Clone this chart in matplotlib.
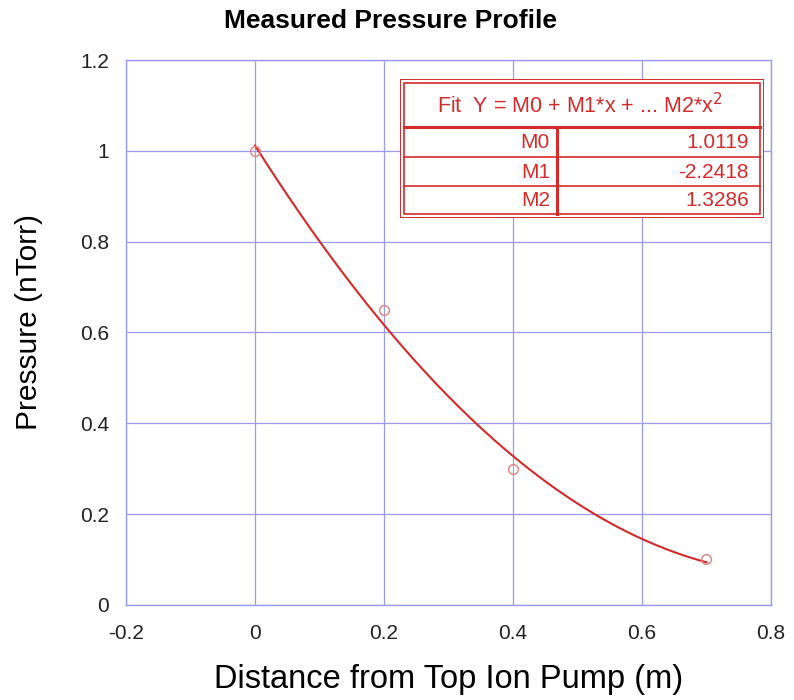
import numpy as np
import matplotlib
matplotlib.use("Agg")
from matplotlib import pyplot as plt

plt.rcParams['font.family'] = ['Liberation Sans', 'DejaVu Sans']

# measured points
distance = [0.0, 0.2, 0.4, 0.7]
pressure = [1.0, 0.65, 0.3, 0.1]

# polynomial fit coefficients
coef_names = ["M0", "M1", "M2"]
coef_vals = [1.0119, -2.2418, 1.3286]

xticks = [-0.2, 0, 0.2, 0.4, 0.6, 0.8]
yticks = [0, 0.2, 0.4, 0.6, 0.8, 1, 1.2]

red = '#d42a2a'
grid_blue = '#9a9aee'

fig = plt.figure(figsize=(7.94, 7.0), dpi=100)
ax = fig.add_axes([0.1587, 0.136, 0.8123, 0.778])

xfit = np.linspace(min(distance), max(distance), 200)
yfit = coef_vals[0] + coef_vals[1] * xfit + coef_vals[2] * xfit ** 2
ax.plot(xfit, yfit, color=red, lw=1.5, zorder=3)
ax.plot(distance, pressure, 'o', mfc='none', mec='#e08080', ms=7, mew=1, zorder=4)

ax.set_xlim(-0.2, 0.8)
ax.set_ylim(0, 1.2)
ax.set_xticks(xticks)
ax.set_yticks(yticks)
ax.set_xticklabels(['-0.2', '0', '0.2', '0.4', '0.6', '0.8'])
ax.set_yticklabels(['0', '0.2', '0.4', '0.6', '0.8', '1', '1.2'])
ax.grid(True, color=grid_blue, lw=0.9)
ax.set_axisbelow(True)
for s in ax.spines.values():
    s.set_color(grid_blue)
    s.set_linewidth(1)
ax.tick_params(length=0, labelsize=15, colors='#222222')
ax.tick_params(axis='x', pad=14)
ax.tick_params(axis='y', pad=12)

ax.set_xlabel('Distance from Top Ion Pump (m)', fontsize=23.5, va='center')
ax.xaxis.set_label_coords(0.5, -0.138)
ax.set_ylabel('Pressure (nTorr)', fontsize=21.5, va='center')
ax.yaxis.set_label_coords(-0.150, 0.52)
fig.text(391 / 794, 1 - 21 / 700, 'Measured Pressure Profile',
         fontsize=19, fontweight='bold', ha='center', va='center')

# fit results box
tb = fig.add_axes([400 / 794, 1 - 218 / 700, 364 / 794, 139 / 700])
tb.set_xlim(0, 364)
tb.set_ylim(139, 0)
tb.axis('off')
tb.add_patch(plt.Rectangle((0, 0), 364, 139, fill=True, fc='white', ec=red, lw=1.4))
tb.add_patch(plt.Rectangle((4, 4), 356, 131, fill=False, ec=red, lw=1.2))
tb.plot([4, 360], [48, 48], color=red, lw=2.2)
tb.plot([4, 360], [78, 78], color=red, lw=1.2)
tb.plot([4, 360], [107, 107], color=red, lw=1.2)
tb.plot([157, 157], [48, 135], color=red, lw=2.2)
tb.text(180, 27, r'Fit  Y = M0 + M1*x + ... M2*x$^2$', color=red, fontsize=15.5,
        ha='center', va='center')
row_y = [63, 93, 121]
for name, val, yy in zip(coef_names, coef_vals, row_y):
    tb.text(150, yy, name, color=red, fontsize=15, ha='right', va='center')
    tb.text(349, yy, f'{val:.4f}', color=red, fontsize=15, ha='right', va='center')

fig.savefig('out.png', dpi=100)
